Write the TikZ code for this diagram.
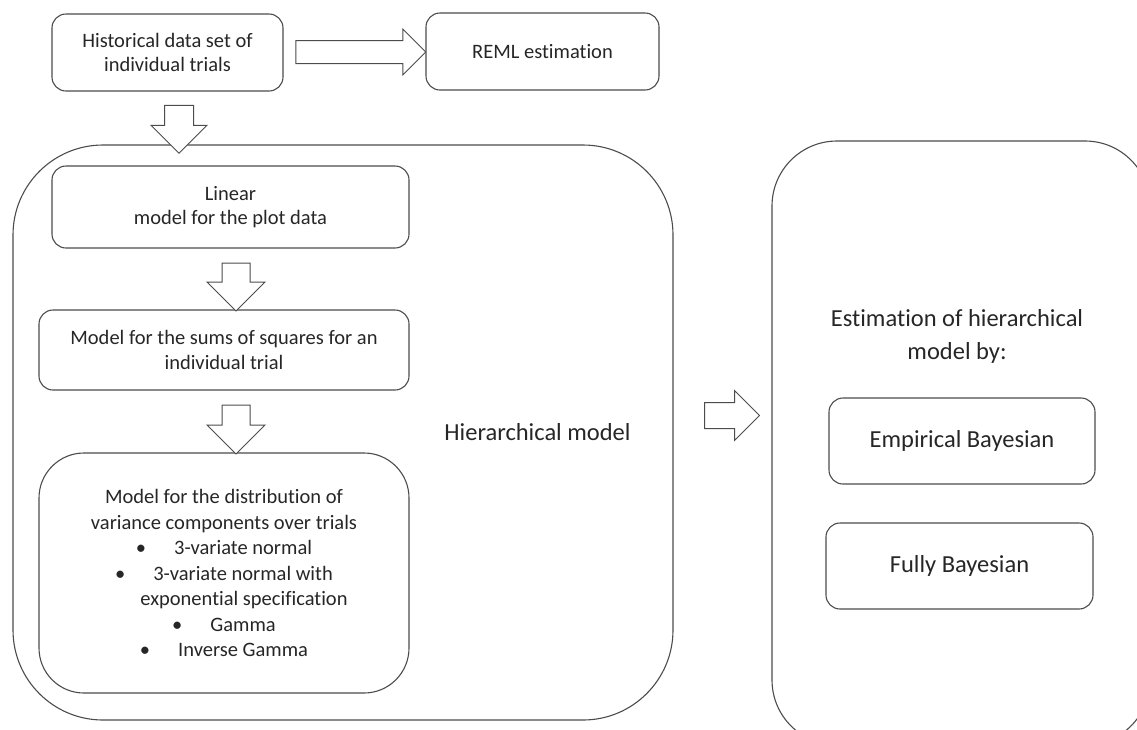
\documentclass[tikz,border=0pt]{standalone}
\usepackage{fontspec}
\setmainfont{Carlito}[Ligatures={NoCommon}]
\usetikzlibrary{shapes.arrows}

\tikzset{
  box/.style={draw=black!70, line width=1.1pt, rounded corners=14pt, align=center,
    inner sep=0pt, text=black!85, font=\fontsize{20.5}{24.5}\selectfont},
  bigbox/.style={draw=black!70, line width=1.1pt, rounded corners=#1},
  blockarrow/.style={single arrow, draw=black!70, fill=white, line width=1pt,
    inner xsep=0pt, single arrow head extend=#1},
  label/.style={text=black!85, align=center, font=\fontsize{24.5}{33}\selectfont},
}
\newcommand{\bul}{\textbullet\hspace{28pt}}

\begin{document}
\begin{tikzpicture}[x=1pt,y=-1pt]
\useasboundingbox (0,0) rectangle (1137,729);
% outer frames
\node[bigbox=90pt, minimum width=660pt, minimum height=575pt] (hier) at (343,432.5) {};
\node[bigbox=65pt, minimum width=378pt, minimum height=604pt] (estim) at (961,443) {};
% top row
\node[box, minimum width=231pt, minimum height=77pt] (hist) at (167.5,52.5) {Historical data set of\\individual trials};
\node[box, minimum width=233pt, minimum height=77pt] (reml) at (542.5,51.5) {REML estimation};
% hierarchical model
\node[box, minimum width=357pt, minimum height=82pt] (linear) at (230.5,207) {Linear\\model for the plot data};
\node[box, minimum width=370pt, minimum height=80pt] (sums) at (224,350) {Model for the sums of squares for an\\individual trial};
\node[box, rounded corners=45pt, minimum width=370pt, minimum height=240pt,
  font=\fontsize{20.5}{25.5}\selectfont] (dist) at (224,573)
  {Model for the distribution of\\variance components over trials\\\bul 3-variate normal\\\bul 3-variate normal with\\\hspace*{40pt}exponential specification\\\bul Gamma\\\bul Inverse Gamma};
\node[label, font=\fontsize{24.5}{29}\selectfont] (hierlabel) at (537.5,432) {Hierarchical model};
% estimation
\node[label] (estimlabel) at (957,336) {Estimation of hierarchical\\model by:};
\node[box, minimum width=266pt, minimum height=86pt, font=\fontsize{24.5}{29}\selectfont] (emp) at (962,441) {Empirical Bayesian};
\node[box, minimum width=267pt, minimum height=86pt, font=\fontsize{24.5}{29}\selectfont] (fully) at (959.5,566) {Fully Bayesian};
% block arrows
\node[blockarrow=11.5pt, inner ysep=11pt, minimum height=130pt] (a1) at (355,52) {};
\node[blockarrow=13.5pt, inner ysep=14pt, minimum height=48pt, rotate=-90] (a2) at (179,122) {};
\node[blockarrow=15pt, inner ysep=13.5pt, minimum height=48pt, rotate=-90] (a3) at (236,280) {};
\node[blockarrow=15pt, inner ysep=13.5pt, minimum height=49pt, rotate=-90] (a4) at (236,422.5) {};
\node[blockarrow=12pt, inner ysep=12.5pt, minimum height=55pt] (a5) at (725.5,415.5) {};
\end{tikzpicture}
\end{document}
